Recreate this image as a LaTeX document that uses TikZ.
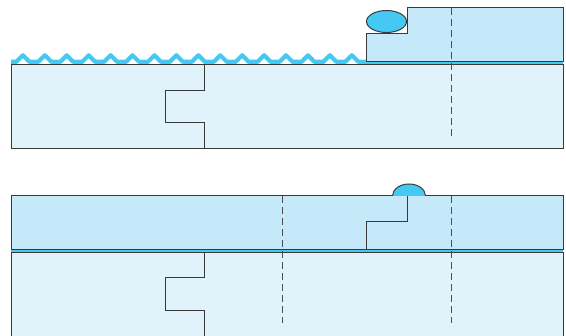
\documentclass[tikz,border=0pt]{standalone}
\begin{document}
\definecolor{sheet}{HTML}{E0F2FA}
\definecolor{layer}{HTML}{C6E9F9}
\definecolor{wet}{HTML}{45C8F2}
\definecolor{edge}{HTML}{3A3A3A}
\begin{tikzpicture}[x=1pt,y=-1pt,
  outline/.style={draw=edge, line width=1pt, line join=miter},
  guide/.style={draw=edge!90, line width=1.4pt, dash pattern=on 7pt off 4pt},
  wave/.style={draw=wet, line width=4.2pt, line join=round}]
\useasboundingbox (0,0) rectangle (566,336);

% ---- upper panel ----
% base sheet
\fill[sheet] (11,65) rectangle (563,149);
% wavy liquid film on the free surface
\draw[wave] (11,61.8)
  \foreach \k in {0,...,15} {
    -- ({22.9+21.93*\k-6.5},61.8) -- ({22.9+21.93*\k},55.3) -- ({22.9+21.93*\k+6.5},61.8)
  } -- (366,61.8);
% thin film under the stepped block
\fill[wet] (366,62) rectangle (563,65);
% stepped block
\fill[layer] (366,62) -- (366,34) -- (407.5,34) -- (407.5,8) -- (563,8) -- (563,62) -- cycle;
\draw[outline] (366,62) -- (366,34) -- (407.5,34) -- (407.5,8) -- (563,8) -- (563,62) -- cycle;
\draw[outline] (11,65) rectangle (563,149);
% notch in the base sheet
\draw[outline] (204.5,65) |- (165,91) |- (204.5,123) -- (204.5,149);
% droplet in the corner
\draw[outline, fill=wet] (386.5,21.5) ellipse [x radius=20, y radius=11];
% cut line
\draw[guide] (451.4,8) -- (451.4,136);

% ---- lower panel ----
\fill[sheet] (11,253) rectangle (563,336);
\fill[layer] (11,196) rectangle (563,250);
\fill[wet] (11,250) rectangle (563,253);
\draw[outline] (11,196) rectangle (563,250);
\draw[outline] (11,336) -- (11,253) -- (563,253) -- (563,336);
% step inside the top layer
\draw[outline] (407.5,196) |- (366,222) -- (366,250);
% notch in the base sheet
\draw[outline] (204.5,253) |- (165,278) |- (204.5,311) -- (204.5,336);
% small droplet cap
\begin{scope}
  \clip (380,170) rectangle (440,196);
  \draw[outline, fill=wet] (409,196) ellipse [x radius=16.5, y radius=12];
\end{scope}
% cut lines
\draw[guide] (282.7,196) -- (282.7,323);
\draw[guide] (451.5,196) -- (451.5,323);
\end{tikzpicture}
\end{document}
